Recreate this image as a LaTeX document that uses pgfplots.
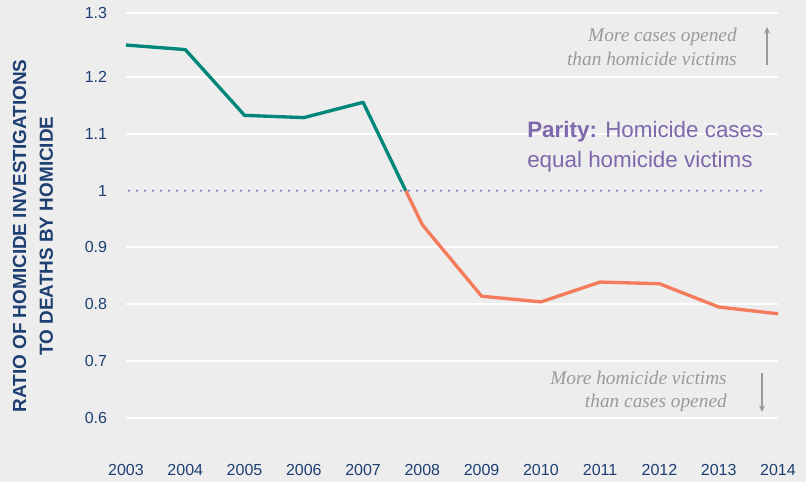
\documentclass[border=0pt]{standalone}
\usepackage{fontspec}
\setmainfont{Liberation Sans}
\newfontfamily\annfont{Liberation Serif}
\usepackage{pgfplots}
\pgfplotsset{compat=1.18}
\usetikzlibrary{arrows.meta}
\definecolor{bg}{HTML}{EDEDED}
\definecolor{tealc}{HTML}{00877A}
\definecolor{coral}{HTML}{F47B5B}
\definecolor{purp}{HTML}{7D68AC}
\definecolor{navy}{HTML}{1D3F72}
\definecolor{anngray}{HTML}{9A9A9A}
\newcommand{\px}[2]{({#1*0.75pt},{(482-#2)*0.75pt})}
\begin{document}
\begin{tikzpicture}
\fill[bg] (0,0) rectangle (604.5pt,361.5pt);
\begin{axis}[
  at={(94.5pt,27.075pt)}, anchor=south west,
  scale only axis, width=489pt, height=324.45pt,
  xmin=2003, xmax=2014, ymin=0.55, ymax=1.313,
  clip=false,
  axis line style={draw=none}, major tick length=0pt,
  tick style={draw=none},
  xtick={2003,2004,...,2014},
  xticklabel style={anchor=center, yshift=-18pt, inner sep=0pt, /pgf/number format/1000 sep={}},
  ytick={0.6,0.7,0.8,0.9,1.1,1.2,1.313},
  yticklabels={0.6,0.7,0.8,0.9,1.1,1.2,1.3},
  extra y ticks={1}, extra y tick labels={1},
  extra y tick style={grid=none},
  yticklabel style={anchor=east, inner sep=0pt, xshift=-14pt},
  ymajorgrids, grid style={white, line width=1.5pt},
  ticklabel style={font=\fontsize{12}{14}\selectfont, text=navy},
  /pgf/number format/assume math mode=true,
]
\addplot[purp, line width=1.8pt, dash pattern=on 0pt off 6pt, line cap=round] coordinates {(2003.05,1) (2013.75,1)};
\addplot[tealc, line width=2.5pt, line join=round] coordinates {(2003,1.257) (2004,1.249) (2005,1.133) (2006,1.129) (2007,1.156) (2007.72,1)};
\addplot[coral, line width=2.5pt, line join=round] coordinates {(2007.72,1) (2008,0.940) (2009,0.814) (2010,0.804) (2011,0.839) (2012,0.836) (2013,0.795) (2014,0.783)};
\end{axis}
\node[rotate=90, align=center, text=navy, font=\bfseries\fontsize{14.2}{20}\selectfont, inner sep=0pt] at \px{33}{236} {RATIO OF HOMICIDE INVESTIGATIONS\\TO DEATHS BY HOMICIDE};
\node[anchor=east, align=right, inner sep=0pt, text=anngray, font=\annfont\itshape\fontsize{14.5}{18}\selectfont] at \px{737}{47} {More cases opened\\than homicide victims};
\draw[anngray, line width=0.8pt, -{Stealth[length=5pt,width=4.5pt]}] \px{767}{65} -- \px{767}{27};
\node[anchor=west, align=left, inner sep=0pt, text=purp, font=\fontsize{16.8}{22.5}\selectfont] at \px{527}{147} {{\bfseries Parity:} Homicide cases\\equal homicide victims};
\node[anchor=east, align=right, inner sep=0pt, text=anngray, font=\annfont\itshape\fontsize{14.5}{17.25}\selectfont] at \px{727}{391.5} {More homicide victims\\than cases opened};
\draw[anngray, line width=0.8pt, -{Stealth[length=5pt,width=4.5pt]}] \px{762}{373} -- \px{762}{412};
\end{tikzpicture}
\end{document}
